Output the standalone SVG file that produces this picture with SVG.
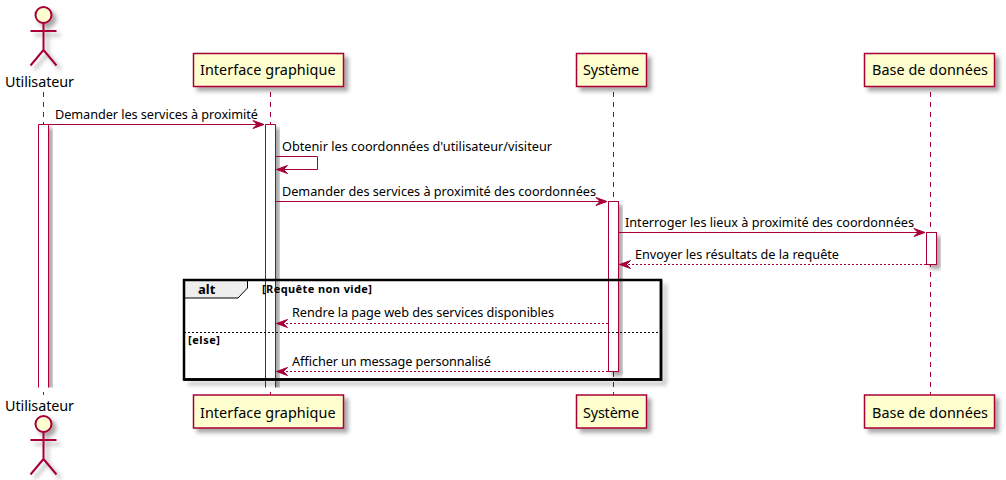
<svg xmlns="http://www.w3.org/2000/svg" width="1006" height="480" viewBox="0 0 1006 480">
<style>
text{font-family:"Noto Sans","DejaVu Sans",sans-serif;fill:#000}
.m{font-size:12.7px}.p{font-size:14.4px}
.f{font-size:11px;font-weight:bold}
.a{font-size:13px;font-weight:bold}
.life{stroke:#A80036;stroke-width:1;stroke-dasharray:5,5;fill:none}
.box{fill:#FEFECE;stroke:#A80036;stroke-width:1.5}
.act{fill:#fff;stroke:#A80036;stroke-width:1}
.msg{stroke:#A80036;stroke-width:1;fill:none}
.ret{stroke-dasharray:2,2}
.head{fill:#A80036;stroke:#A80036}
.actor{fill:none;stroke:#A80036;stroke-width:2}
</style>
<defs>
<filter id="s" x="-30%" y="-30%" width="170%" height="170%"><feDropShadow dx="4" dy="4" stdDeviation="2" flood-color="#000" flood-opacity="0.35"/></filter>
<clipPath id="clipA"><rect x="0" y="100" width="1006" height="287.5"/></clipPath>
<g id="actorShape"><circle cx="43.5" cy="15" r="8" fill="#FEFECE" stroke="#A80036" stroke-width="2"/><path class="actor" d="M43.5 23V50M30.5 31H56.5M43.5 50L30.5 65.500M43.500 50L56.500 65.500"/></g>
</defs>
<g id="lifelines">
<path class="life" d="M43.500 92V395M270.500 92V395M613.500 92V395M930.500 92V395"/>
</g>
<g id="activations">
<g clip-path="url(#clipA)"><path class="act" filter="url(#s)" d="M38.500 400V124.500H48.500V400Z"/>
<path class="act" filter="url(#s)" d="M265.500 400V124.500H275.500V400Z"/></g>
<rect class="act" filter="url(#s)" x="608.500" y="201.500" width="10" height="170"/>
<rect class="act" filter="url(#s)" x="926.500" y="232.500" width="10" height="32"/>
</g>
<g id="frame-alt">
<path d="M661 280V379.500H184" fill="none" stroke="#000" stroke-width="2.500" filter="url(#s)"/>
<path d="M184 280H247.500V288L238 298H184Z" fill="#EEEEEE" stroke="#000" stroke-width="1"/>
<rect x="184" y="280" width="477" height="99.500" fill="none" stroke="#000" stroke-width="2.500"/>
<path d="M184 332.500H661" stroke="#000" stroke-width="1" stroke-dasharray="2,2"/>
<text class="a" x="198" y="294">alt</text>
<text class="f" x="262" y="293" textLength="110">[Requête non vide]</text>
<text class="f" x="188" y="344" textLength="32">[else]</text>
</g>
<g id="connectors">
<path class="msg" d="M48.500 124.500H260"/><path class="head" d="M253 120.500L264 124.500L253 128.500L257 124.500Z"/>
<path class="msg" d="M275.500 156.500H317.500V169.500H280"/><path class="head" d="M287.500 165.500L276.500 169.500L287.500 173.500L283.500 169.500Z"/>
<path class="msg" d="M275.500 201.500H603"/><path class="head" d="M596 197.500L607 201.500L596 205.500L600 201.500Z"/>
<path class="msg" d="M618.500 232.500H921"/><path class="head" d="M914 228.500L925 232.500L914 236.500L918 232.500Z"/>
<path class="msg ret" d="M926 264.500H624"/><path class="head" d="M630.500 260.500L619.500 264.500L630.500 268.500L626.500 264.500Z"/>
<path class="msg ret" d="M608 323.500H281"/><path class="head" d="M287.500 319.500L276.500 323.500L287.500 327.500L283.500 323.500Z"/>
<path class="msg ret" d="M608 371.500H281"/><path class="head" d="M287.500 367.500L276.500 371.500L287.500 375.500L283.500 371.500Z"/>
</g>
<g id="labels">
<text class="m" x="55" y="119" textLength="203">Demander les services à proximité</text>
<text class="m" x="282" y="151" textLength="270">Obtenir les coordonnées d'utilisateur/visiteur</text>
<text class="m" x="282" y="196" textLength="314">Demander des services à proximité des coordonnées</text>
<text class="m" x="625" y="227" textLength="289">Interroger les lieux à proximité des coordonnées</text>
<text class="m" x="635" y="259" textLength="204">Envoyer les résultats de la requête</text>
<text class="m" x="292" y="317" textLength="262">Rendre la page web des services disponibles</text>
<text class="m" x="292" y="366" textLength="199">Afficher un message personnalisé</text>
</g>
<g id="utilisateur-top"><use href="#actorShape" filter="url(#s)"/><text class="p" x="5" y="87" textLength="69">Utilisateur</text></g>
<g id="utilisateur-bottom"><use href="#actorShape" y="409" filter="url(#s)"/><text class="p" x="5" y="411" textLength="69">Utilisateur</text></g>
<g id="interface-top"><rect class="box" filter="url(#s)" x="193.500" y="53.500" width="150" height="33"/><text class="p" x="200" y="75" textLength="135.500">Interface graphique</text></g>
<g id="interface-bottom"><rect class="box" filter="url(#s)" x="193.500" y="395" width="150" height="33"/><text class="p" x="200" y="418" textLength="135.500">Interface graphique</text></g>
<g id="systeme-top"><rect class="box" filter="url(#s)" x="576.500" y="53.500" width="70" height="33"/><text class="p" x="583" y="75" textLength="56">Système</text></g>
<g id="systeme-bottom"><rect class="box" filter="url(#s)" x="576.500" y="395" width="70" height="33"/><text class="p" x="583" y="418" textLength="56">Système</text></g>
<g id="base-top"><rect class="box" filter="url(#s)" x="864.500" y="53.500" width="130" height="33"/><text class="p" x="872" y="75" textLength="116">Base de données</text></g>
<g id="base-bottom"><rect class="box" filter="url(#s)" x="864.500" y="395" width="130" height="33"/><text class="p" x="872" y="418" textLength="116">Base de données</text></g>
</svg>
